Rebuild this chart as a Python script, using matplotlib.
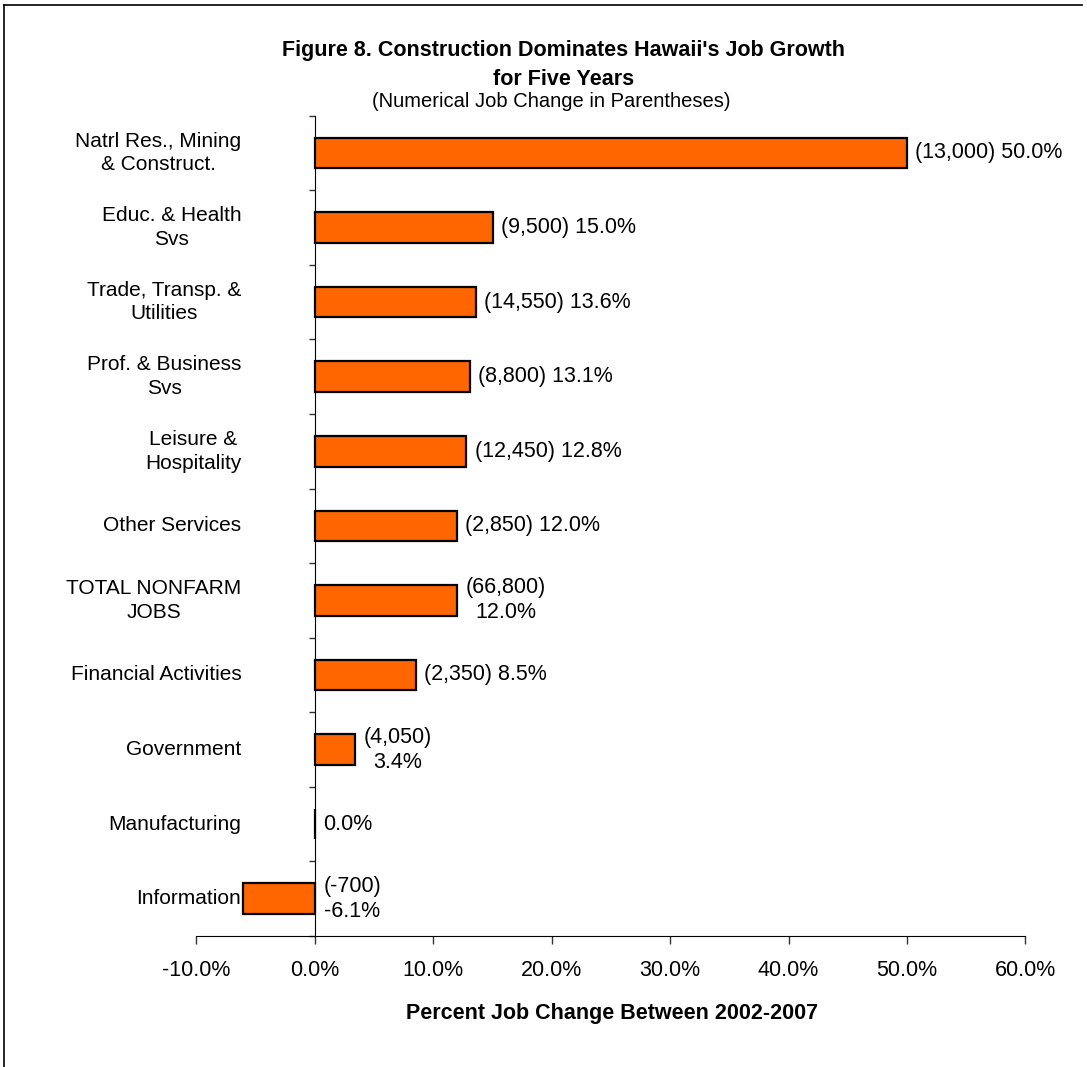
import matplotlib
matplotlib.use("Agg")
import matplotlib.pyplot as plt
from matplotlib.lines import Line2D

plt.rcParams['font.family'] = ['Liberation Sans', 'DejaVu Sans']

# data
categories = ["Natrl Res., Mining\n& Construct.", "Educ. & Health\nSvs", "Trade, Transp. &\nUtilities",
              "Prof. & Business\nSvs", "Leisure &\nHospitality", "Other Services", "TOTAL NONFARM\nJOBS",
              "Financial Activities", "Government", "Manufacturing", "Information"]
pct_change = [50.0, 15.0, 13.6, 13.1, 12.8, 12.0, 12.0, 8.5, 3.4, 0.0, -6.1]
job_change = ["13,000", "9,500", "14,550", "8,800", "12,450", "2,850", "66,800", "2,350", "4,050", "", "-700"]
two_line = [False, False, False, False, False, False, True, False, True, False, True]
x_ticks = [-10, 0, 10, 20, 30, 40, 50, 60]

W, H = 1087, 1067
fig = plt.figure(figsize=(W / 100, H / 100), dpi=100)

# axes box in pixel positions of the reference
left, right, top, bottom = 196.5, 1025.3, 115.7, 936
ax = fig.add_axes([left / W, 1 - bottom / H, (right - left) / W, (bottom - top) / H])

ypos = list(range(len(categories)))
ax.barh(ypos, pct_change, height=0.41, color='#FF6600', edgecolor='black', linewidth=1.6, zorder=3)

ax.set_xlim(-10, 60)
ax.set_ylim(len(categories) - 0.5, -0.5)

# spines: category axis sits on 0
ax.spines['top'].set_visible(False)
ax.spines['right'].set_visible(False)
ax.spines['left'].set_position(('data', 0))
ax.spines['left'].set_color('black')
ax.spines['bottom'].set_color('black')

ax.set_xticks(x_ticks)
ax.set_xticklabels([f"{v:.1f}%" for v in x_ticks], fontsize=15.5)
ax.tick_params(axis='x', direction='out', length=6, width=1, color='#333333', pad=11)

ax.set_yticks([i - 0.5 for i in range(len(categories) + 1)])
ax.set_yticklabels([])
ax.tick_params(axis='y', direction='out', length=4.5, width=1, color='#333333')

# category labels to the left of the zero line
for i, name in enumerate(categories):
    ax.annotate(name, xy=(0, i), xytext=(-53, 0), textcoords='offset points',
                ha='right', va='center', multialignment='center', fontsize=15, linespacing=1.3)

# value labels
for i, (v, j) in enumerate(zip(pct_change, job_change)):
    if j:
        sep = "\n" if two_line[i] else " "
        txt = f"({j}){sep}{v:.1f}%"
    else:
        txt = f"{v:.1f}%"
    ax.annotate(txt, xy=(max(v, 0), i), xytext=(6, 0), textcoords='offset points',
                ha='left', va='center', multialignment='center', fontsize=15.5, linespacing=1.25)

# titles and axis title
fig.text(564 / W, 1 - 56 / H, "Figure 8. Construction Dominates Hawaii's Job Growth",
         ha='center', va='baseline', fontsize=15.5, fontweight='bold')
fig.text(564 / W, 1 - 85 / H, "for Five Years",
         ha='center', va='baseline', fontsize=15.5, fontweight='bold')
fig.text(551 / W, 1 - 107 / H, "(Numerical Job Change in Parentheses)",
         ha='center', va='baseline', fontsize=14.5)
fig.text(612 / W, 1 - 1019 / H, "Percent Job Change Between 2002-2007",
         ha='center', va='baseline', fontsize=15.5, fontweight='bold')

# outer frame (left and top edges visible)
fig.add_artist(Line2D([3.5 / W, 3.5 / W], [0, 1 - 4.5 / H], transform=fig.transFigure, color='black', lw=1.2))
fig.add_artist(Line2D([3.5 / W, 1082 / W], [1 - 4.5 / H, 1 - 4.5 / H], transform=fig.transFigure, color='black', lw=1.2))

fig.savefig("out.png", dpi=100)
